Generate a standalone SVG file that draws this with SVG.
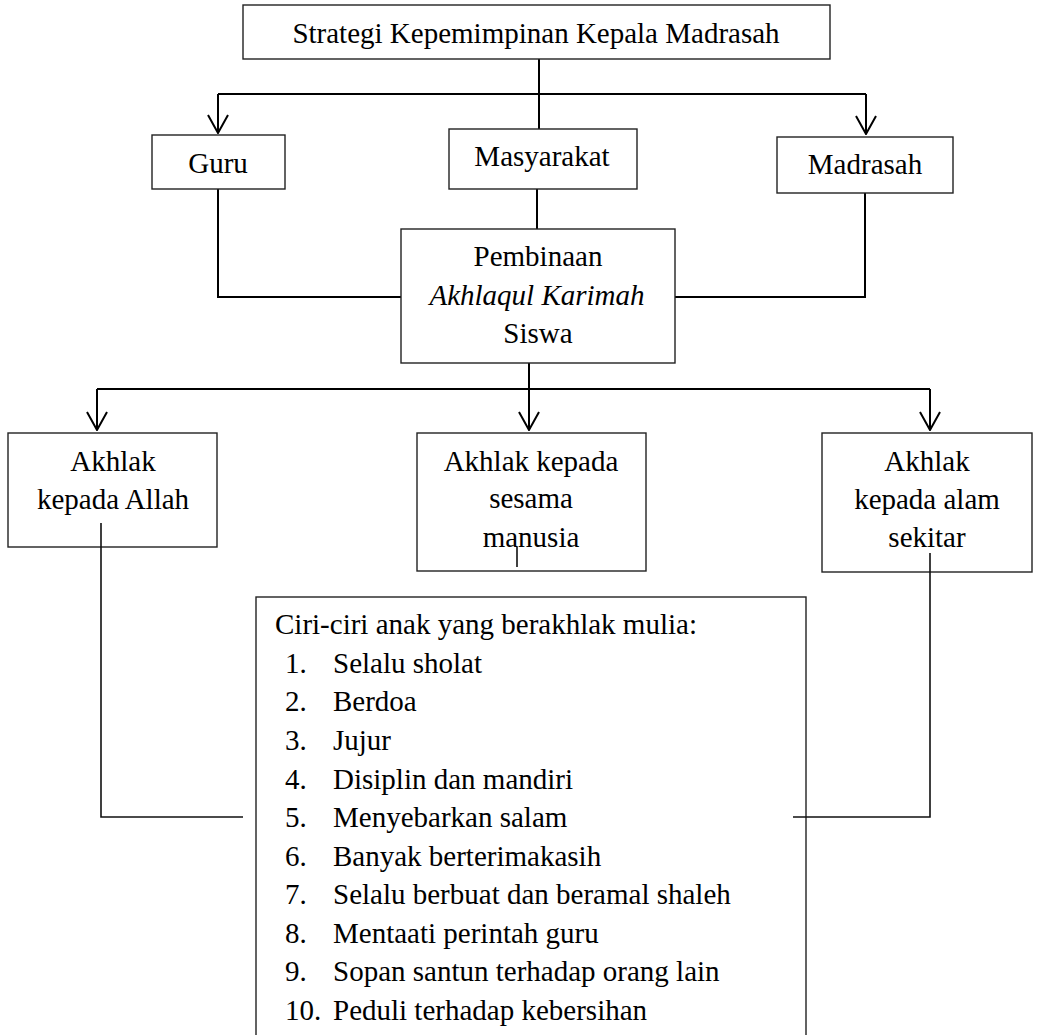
<svg xmlns="http://www.w3.org/2000/svg" width="1038" height="1035" viewBox="0 0 1038 1035">
<style>
  .box{fill:#fff;stroke:#222;stroke-width:1.4}
  .t{font-family:"Liberation Serif","Times New Roman",serif;font-size:29px;fill:#000}
  .c{text-anchor:middle}
  .i{font-style:italic}
  .ln{fill:none;stroke:#000;stroke-width:2}
  .thin{fill:none;stroke:#111;stroke-width:1.6}
</style>
<defs>
  <marker id="arr" viewBox="0 0 20 24" refX="19" refY="12" markerWidth="20" markerHeight="24" markerUnits="userSpaceOnUse" orient="auto">
    <path d="M1,2 L19,12 L1,22" fill="none" stroke="#000" stroke-width="2"/>
  </marker>
</defs>
<rect width="1038" height="1035" fill="#fff"/>

<g id="connectors">
  <path class="ln" d="M539,59 V129"/>
  <path class="ln" d="M218,94 H866"/>
  <path class="ln" d="M218,94 V133" marker-end="url(#arr)"/>
  <path class="ln" d="M866,94 V134" marker-end="url(#arr)"/>
  <path class="ln" d="M218,189 V297 H401"/>
  <path class="ln" d="M537,189 V229"/>
  <path class="ln" d="M865,193 V297 H675"/>
  <path class="ln" d="M529,363 V389"/>
  <path class="ln" d="M97,389 H930"/>
  <path class="ln" d="M97,389 V430" marker-end="url(#arr)"/>
  <path class="ln" d="M529,389 V430" marker-end="url(#arr)"/>
  <path class="ln" d="M930,389 V430" marker-end="url(#arr)"/>
</g>

<g id="n-strategi">
  <rect class="box" x="243" y="5" width="587" height="54"/>
  <text class="t c" x="536" y="43">Strategi Kepemimpinan Kepala Madrasah</text>
</g>
<g id="n-guru">
  <rect class="box" x="152" y="135" width="133" height="54"/>
  <text class="t c" x="218" y="173">Guru</text>
</g>
<g id="n-masyarakat">
  <rect class="box" x="449" y="129" width="188" height="60"/>
  <text class="t c" x="542" y="166">Masyarakat</text>
</g>
<g id="n-madrasah">
  <rect class="box" x="777" y="137" width="176" height="56"/>
  <text class="t c" x="865" y="174">Madrasah</text>
</g>
<g id="n-pembinaan">
  <rect class="box" x="401" y="229" width="274" height="134"/>
  <text class="t c" x="538" y="266">Pembinaan</text>
  <text class="t c i" x="537" y="305">Akhlaqul Karimah</text>
  <text class="t c" x="538" y="343">Siswa</text>
</g>
<g id="n-allah">
  <rect class="box" x="8" y="433" width="209" height="114"/>
  <text class="t c" x="113" y="471">Akhlak</text>
  <text class="t c" x="113" y="509">kepada Allah</text>
</g>
<g id="n-manusia">
  <rect class="box" x="417" y="433" width="229" height="138"/>
  <text class="t c" x="531" y="471">Akhlak kepada</text>
  <text class="t c" x="531" y="508">sesama</text>
  <text class="t c" x="531" y="547">manusia</text>
</g>
<g id="n-alam">
  <rect class="box" x="822" y="433" width="210" height="139"/>
  <text class="t c" x="927" y="471">Akhlak</text>
  <text class="t c" x="927" y="509">kepada alam</text>
  <text class="t c" x="927" y="547">sekitar</text>
</g>
<g id="n-ciri">
  <rect class="box" x="256" y="597" width="550" height="460"/>
  <text class="t" x="275" y="634">Ciri-ciri anak yang berakhlak mulia:</text>
  <g class="t">
    <text x="285" y="673">1.</text><text x="333" y="673">Selalu sholat</text>
    <text x="285" y="711">2.</text><text x="333" y="711">Berdoa</text>
    <text x="285" y="750">3.</text><text x="333" y="750">Jujur</text>
    <text x="285" y="789">4.</text><text x="333" y="789">Disiplin dan mandiri</text>
    <text x="285" y="827">5.</text><text x="333" y="827">Menyebarkan salam</text>
    <text x="285" y="866">6.</text><text x="333" y="866">Banyak berterimakasih</text>
    <text x="285" y="904">7.</text><text x="333" y="904">Selalu berbuat dan beramal shaleh</text>
    <text x="285" y="943">8.</text><text x="333" y="943">Mentaati perintah guru</text>
    <text x="285" y="981">9.</text><text x="333" y="981">Sopan santun terhadap orang lain</text>
    <text x="285" y="1020">10.</text><text x="333" y="1020">Peduli terhadap kebersihan</text>
  </g>
</g>

<g id="connectors-lower">
  <path class="thin" d="M101,523 V817 H243"/>
  <path class="thin" d="M517,547 V567"/>
  <path class="thin" d="M930,553 V817 H793"/>
</g>
</svg>
